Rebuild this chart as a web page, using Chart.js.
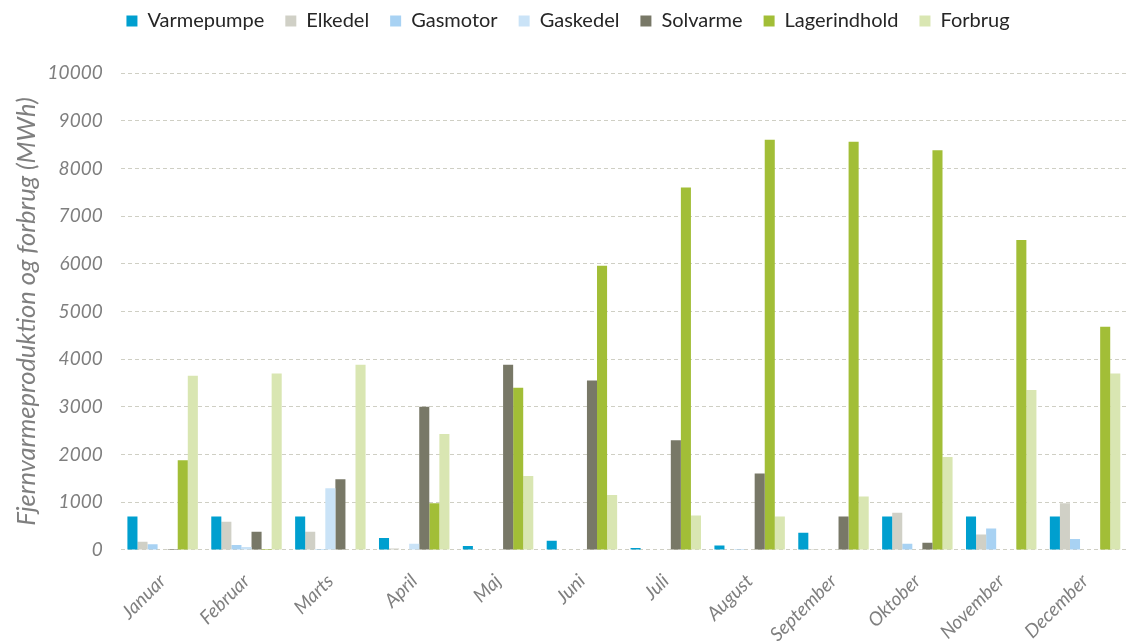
<!DOCTYPE html>
<html>
<head>
<meta charset="utf-8">
<script src="https://cdn.jsdelivr.net/npm/chart.js@4"></script>
<style>
  html, body { margin: 0; padding: 0; background: #fff; }
  #wrap { width: 1129px; height: 644px; }
</style>
</head>
<body>
<div id="wrap"><canvas id="fjernvarmeChart"></canvas></div>
<script>
// Månedlig fjernvarmeproduktion og forbrug (MWh)
const maaneder = ['Januar', 'Februar', 'Marts', 'April', 'Maj', 'Juni',
                  'Juli', 'August', 'September', 'Oktober', 'November', 'December'];
const varmepumpe   = [700, 700, 700, 250, 80, 190, 40, 90, 360, 700, 700, 700];
const elkedel      = [170, 590, 380, 30, 0, 0, 0, 10, 20, 780, 320, 980];
const gasmotor     = [120, 100, 20, 0, 0, 0, 0, 20, 0, 130, 450, 230];
const gaskedel     = [0, 60, 1290, 130, 0, 0, 0, 0, 0, 0, 0, 0];
const solvarme     = [20, 380, 1480, 3000, 3880, 3550, 2300, 1600, 700, 150, 10, 0];
const lagerindhold = [1880, 20, 0, 980, 3400, 5960, 7600, 8600, 8560, 8380, 6500, 4680];
const forbrug      = [3650, 3700, 3880, 2430, 1550, 1150, 720, 700, 1120, 1950, 3350, 3700];
const yTicks = [0, 1000, 2000, 3000, 4000, 5000, 6000, 7000, 8000, 9000, 10000];

const serier = [
    { label: 'Varmepumpe',   data: varmepumpe,   color: '#009fcf' },
    { label: 'Elkedel',      data: elkedel,      color: '#d0d0c6' },
    { label: 'Gasmotor',     data: gasmotor,     color: '#a8d2f3' },
    { label: 'Gaskedel',     data: gaskedel,     color: '#cae3f7' },
    { label: 'Solvarme',     data: solvarme,     color: '#787867' },
    { label: 'Lagerindhold', data: lagerindhold, color: '#a2be37' },
    { label: 'Forbrug',      data: forbrug,      color: '#d9e6b2' }
];

const fontFamily = 'Lato, "Open Sans", sans-serif';

// ekstra luft mellem legend og plotområde
const legendSpacing = {
    id: 'legendSpacing',
    beforeInit(chart) {
        const fitOrig = chart.legend.fit;
        chart.legend.fit = function fit() {
            fitOrig.bind(chart.legend)();
            this.height += 32;
        };
    }
};

const ctx = document.getElementById('fjernvarmeChart').getContext('2d');
new Chart(ctx, {
    type: 'bar',
    data: {
        labels: maaneder,
        datasets: serier.map(s => ({
            label: s.label,
            data: s.data,
            backgroundColor: s.color,
            borderWidth: 0,
            categoryPercentage: 0.84,
            barPercentage: 1.0
        }))
    },
    options: {
        responsive: true,
        maintainAspectRatio: false,
        animation: false,
        layout: {
            padding: { left: 9, right: 2, top: -10, bottom: -14 }
        },
        scales: {
            x: {
                grid: { display: false },
                border: { display: false },
                ticks: {
                    color: '#7f7f7f',
                    font: { family: fontFamily, size: 19, style: 'italic' },
                    minRotation: 45,
                    maxRotation: 45,
                    padding: 12
                }
            },
            y: {
                min: 0,
                max: 10000,
                afterBuildTicks: axis => {
                    axis.ticks = yTicks.map(v => ({ value: v }));
                },
                grid: {
                    color: '#cfcfc4',
                    lineWidth: 1,
                    drawTicks: false
                },
                border: { display: false, dash: [4, 3] },
                ticks: {
                    color: '#7f7f7f',
                    font: { family: fontFamily, size: 19, style: 'italic' },
                    padding: 18,
                    callback: value => String(value)
                },
                title: {
                    display: true,
                    text: 'Fjernvarmeproduktion og forbrug (MWh)',
                    color: '#7f7f7f',
                    font: { family: fontFamily, size: 25.5, style: 'italic' },
                    padding: { top: 2, bottom: -12 }
                }
            }
        },
        plugins: {
            legend: {
                position: 'top',
                labels: {
                    color: '#262626',
                    font: { family: fontFamily, size: 20 },
                    boxWidth: 11,
                    boxHeight: 11,
                    padding: 21
                }
            },
            tooltip: { enabled: false }
        }
    },
    plugins: [legendSpacing]
});
</script>
</body>
</html>
